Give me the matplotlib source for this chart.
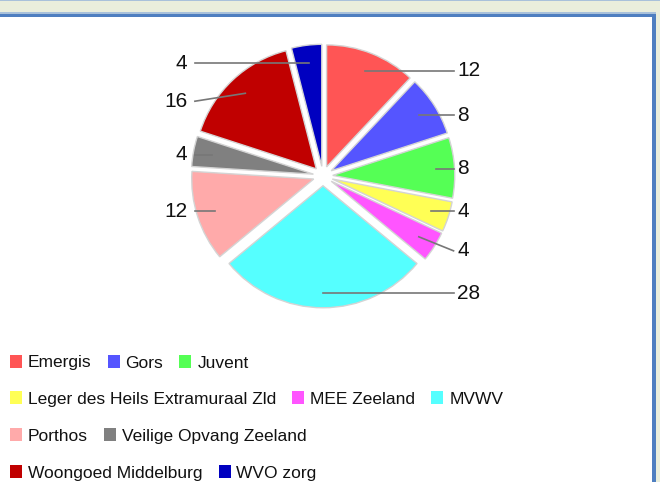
import matplotlib
matplotlib.use("Agg")
import matplotlib.pyplot as plt
from matplotlib.patches import Rectangle
import numpy as np

NAMES = ["Emergis", "Gors", "Juvent", "Leger des Heils Extramuraal Zld",
         "MEE Zeeland", "MVWV", "Porthos", "Veilige Opvang Zeeland",
         "Woongoed Middelburg", "WVO zorg"]
COUNTS = [12, 8, 8, 4, 4, 28, 12, 4, 16, 4]
COLORS = ["#ff5555", "#5555ff", "#55ff55", "#ffff55", "#ff55ff",
          "#55ffff", "#ffaaaa", "#808080", "#c00000", "#0000c0"]
LEGEND_ROWS = [[0, 1, 2], [3, 4, 5], [6, 7], [8, 9]]

W, H = 660, 482
EXPLODE = 0.08
SCALE = 122.0          # pixels per pie radius
CX, CY = 323, 176      # pie centre in image pixels (y from top)
# small vertical nudges of a few value labels (in radius units)
LABEL_NUDGE = {4: -0.115, 5: -0.03, 8: -0.065}

plt.rcParams["font.family"] = ["Liberation Sans", "DejaVu Sans"]

fig = plt.figure(figsize=(W / 100, H / 100), dpi=100)
fig.patch.set_facecolor("#eaeedc")


def px_rect(x0, y0, x1, y1, z=0, **kw):
    # rectangle in image pixel coords (y down)
    fig.patches.append(Rectangle((x0 / W, 1 - y1 / H), (x1 - x0) / W, (y1 - y0) / H,
                                 transform=fig.transFigure, zorder=z, **kw))


# panel frame
px_rect(0, 0, W, 1.2, facecolor="#a9c1da", edgecolor="none")
px_rect(0, 11.5, 656, 13.5, facecolor="#a9c1da", edgecolor="none")
px_rect(0, 13.5, 656, H, facecolor="#4f7fc0", edgecolor="none")
px_rect(0, 17, 652, H, facecolor="white", edgecolor="none")

# pie axes, sized so that one data unit equals SCALE pixels
xr, yr = 1.6, 1.3
ax = fig.add_axes([(CX - xr * SCALE) / W, (H - CY - yr * SCALE) / H,
                   2 * xr * SCALE / W, 2 * yr * SCALE / H])
ax.set_zorder(5)
ax.pie(COUNTS, colors=COLORS, startangle=90, counterclock=False,
       explode=[EXPLODE] * len(COUNTS), radius=1.0,
       wedgeprops=dict(edgecolor="#d4d4d4", linewidth=1.0))
ax.set_aspect("auto")
ax.set_xlim(-xr, xr)
ax.set_ylim(-yr, yr)
ax.axis("off")

total = float(sum(COUNTS))
cum = 0.0
for i, v in enumerate(COUNTS):
    theta = np.deg2rad(90 - 360 * (cum + v / 2) / total)
    cum += v
    r0 = 0.85 + EXPLODE
    sx, sy = r0 * np.cos(theta), r0 * np.sin(theta)
    ly = sy + LABEL_NUDGE.get(i, 0.0)
    if np.cos(theta) >= -0.01:
        ex, tx, ha = 1.07, 1.10, "left"
    else:
        ex, tx, ha = -1.05, -1.11, "right"
    ax.plot([sx, ex], [ly if i == 5 else sy, ly], color="#777777", lw=1.2, zorder=5)
    ax.text(tx, ly, str(v), ha=ha, va="center", fontsize=15, color="#111111")

# legend, flowed left to right
renderer = fig.canvas.get_renderer()
row_y0, row_dy = 361, 36.7
for r, row in enumerate(LEGEND_ROWS):
    yc = row_y0 + r * row_dy
    x = 10
    for idx in row:
        px_rect(x, yc - 6.5, x + 12, yc + 6.5, z=3, facecolor=COLORS[idx], edgecolor="none")
        t = fig.text((x + 18) / W, 1 - (yc + 6.5) / H, NAMES[idx], fontsize=12.5,
                     ha="left", va="baseline", color="#111111")
        wdt = t.get_window_extent(renderer).width
        x = x + 18 + wdt + 16

fig.savefig("out.png", dpi=100, facecolor=fig.get_facecolor())
